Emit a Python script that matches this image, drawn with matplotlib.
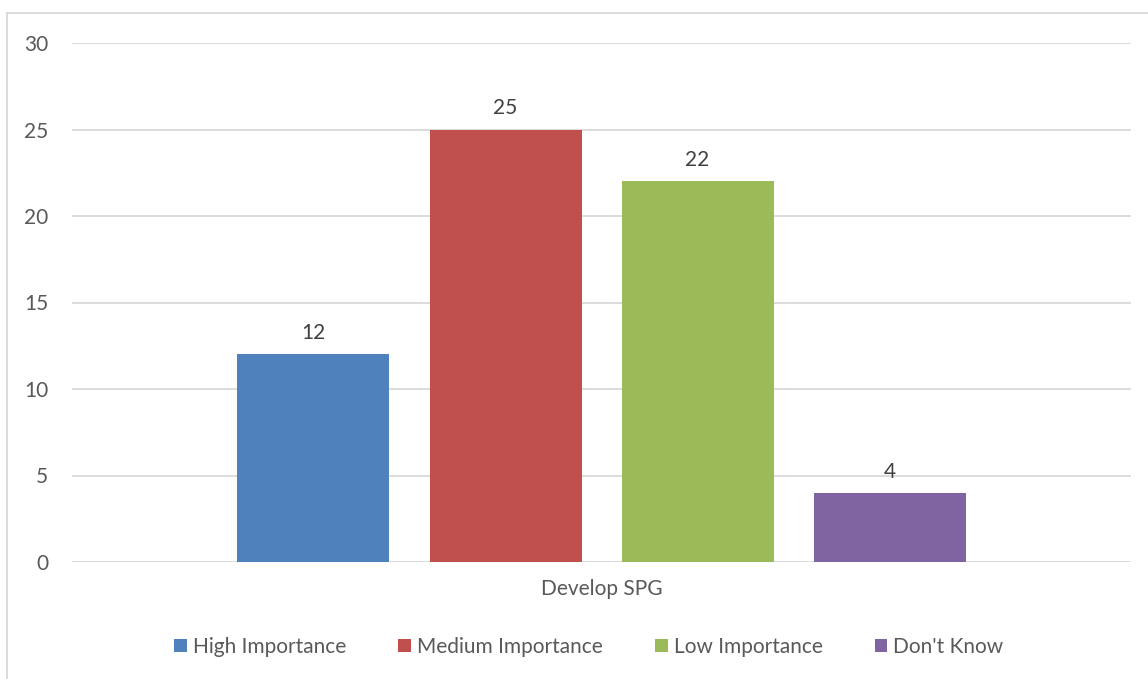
import matplotlib.pyplot as plt
from matplotlib.patches import Patch
from matplotlib.lines import Line2D

plt.rcParams['font.family'] = ['Lato', 'DejaVu Sans']

category = 'Develop SPG'
series = ['High Importance', 'Medium Importance', 'Low Importance', "Don't Know"]
values = [12, 25, 22, 4]
colors = ['#4f81bd', '#c0504d', '#9bbb59', '#8064a2']
yticks = [0, 5, 10, 15, 20, 25, 30]

W, H = 1148, 679
fig = plt.figure(figsize=(W / 100, H / 100), dpi=100)
ax = fig.add_axes([72 / W, 1 - 562 / H, (1131 - 72) / W, (562 - 43) / H])

step = 192 / 1059
width = 152 / 1059
for i, (name, v, c) in enumerate(zip(series, values, colors)):
    x = (i - 1.5) * step
    ax.bar(x, v, width=width, color=c, zorder=3)
    ax.annotate(str(v), (x, v), xytext=(0, 8), textcoords='offset points',
                ha='center', va='bottom', fontsize=15, color='#404040')

ax.set_xlim(-0.5, 0.5)
ax.set_ylim(0, 30)
ax.set_yticks(yticks)
ax.set_xticks([0])
ax.set_xticklabels([category])
ax.yaxis.grid(True, color='#d9d9d9', linewidth=1.3, zorder=0)
ax.set_axisbelow(True)
for s in ax.spines.values():
    s.set_visible(False)
ax.tick_params(length=0, labelsize=15, labelcolor='#595959')
ax.tick_params(axis='y', pad=17)
ax.tick_params(axis='x', pad=12)

# outer chart frame (cropped at right/bottom)
fig.add_artist(Line2D([7 / W, 7 / W], [0, 1 - 13 / H], transform=fig.transFigure,
                      color='#d9d9d9', linewidth=1.3))
fig.add_artist(Line2D([7 / W, 1], [1 - 13 / H, 1 - 13 / H], transform=fig.transFigure,
                      color='#d9d9d9', linewidth=1.3))

handles = [Patch(facecolor=c, label=n) for n, c in zip(series, colors)]
fig.legend(handles=handles, loc='center', bbox_to_anchor=(589 / W, 1 - 647 / H),
           ncol=4, frameon=False, fontsize=15, labelcolor='#595959',
           handlelength=0.6, handleheight=0.6, handletextpad=0.3,
           columnspacing=2.5)

fig.savefig('out.png', dpi=100)
